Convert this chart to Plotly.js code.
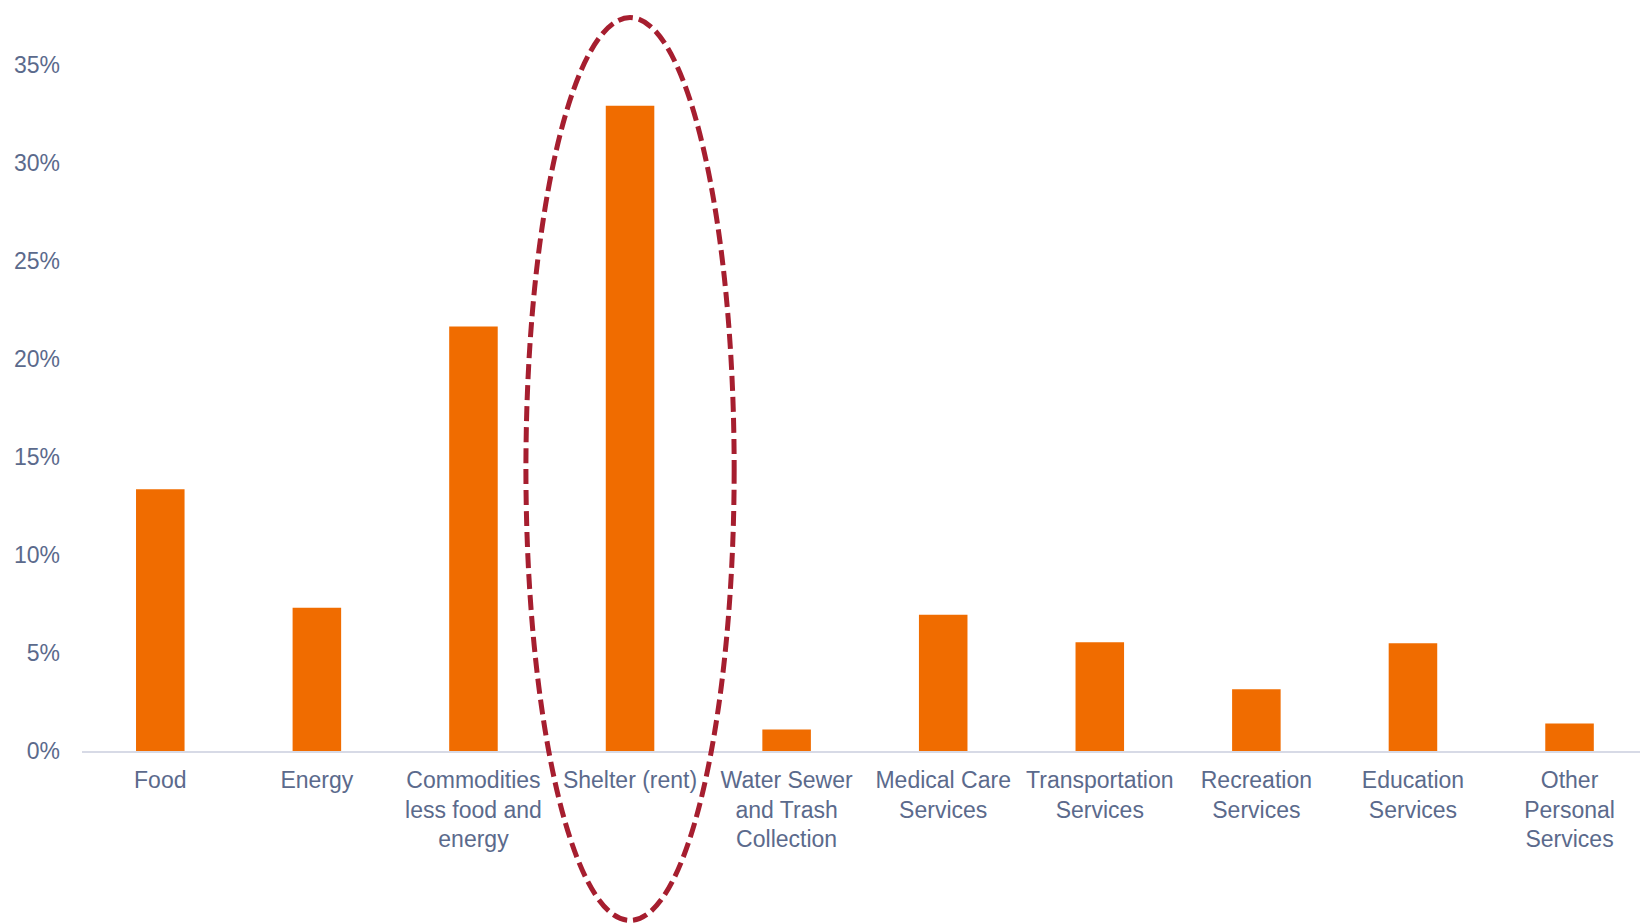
<!DOCTYPE html>
<html>
<head>
<meta charset="utf-8">
<script src="https://cdn.plot.ly/plotly-3.0.1.min.js"></script>
<style>html,body{margin:0;padding:0;background:#fff;}#chart{width:1640px;height:923px;}</style>
</head>
<body>
<div id="chart"></div>
<script>
var categories = [
  "Food", "Energy", "Commodities<br>less food and<br>energy", "Shelter (rent)",
  "Water Sewer<br>and Trash<br>Collection", "Medical Care<br>Services",
  "Transportation<br>Services", "Recreation<br>Services", "Education<br>Services",
  "Other<br>Personal<br>Services"
];
var values = [13.35, 7.3, 21.65, 32.9, 1.1, 6.95, 5.55, 3.15, 5.5, 1.4];
var yTickVals = [0, 5, 10, 15, 20, 25, 30, 35];
var highlightIndex = 3;

var W = 1640, H = 923;
var margin = {l: 82, r: 0, t: 45.4, b: 172};
var xRange = [-0.5, 9.45];
var yRange = [0, 36];

// ellipse around highlighted category, expressed in axis units then converted to paper
var halfWidthCat = 0.665;
var ellTopVal = 37.4, ellBotVal = -8.64;
function xPaper(v){ return (v - xRange[0]) / (xRange[1] - xRange[0]); }
function yPaper(v){ return (v - yRange[0]) / (yRange[1] - yRange[0]); }

var fontColor = "#5b6a8c";
var trace = {
  type: "bar",
  x: categories.map(function(c, i){ return i; }),
  y: values,
  marker: {color: "#F06C00"},
  width: 0.31,
  hoverinfo: "skip"
};

var layout = {
  width: W, height: H,
  margin: margin,
  paper_bgcolor: "#ffffff",
  plot_bgcolor: "#ffffff",
  showlegend: false,
  font: {family: "Liberation Sans, Arial, sans-serif", size: 23, color: fontColor},
  xaxis: {
    range: xRange,
    tickmode: "array",
    tickvals: categories.map(function(c, i){ return i; }),
    ticktext: categories,
    showgrid: false,
    zeroline: false,
    showline: true,
    linecolor: "#d7dae6",
    linewidth: 2,
    ticks: "",
    tickangle: 0,
    ticklabelstandoff: 7,
    tickfont: {size: 23, color: fontColor}
  },
  yaxis: {
    range: yRange,
    tickmode: "array",
    tickvals: yTickVals,
    ticktext: yTickVals.map(function(v){ return v + "%"; }),
    showgrid: false,
    zeroline: false,
    showline: false,
    ticks: "",
    ticklabelstandoff: 21,
    tickfont: {size: 23, color: fontColor}
  },
  shapes: [{
    type: "circle",
    xref: "paper", yref: "paper",
    x0: xPaper(highlightIndex - halfWidthCat),
    x1: xPaper(highlightIndex + halfWidthCat),
    y0: yPaper(ellBotVal),
    y1: yPaper(ellTopVal),
    line: {color: "#A61E2F", width: 5, dash: "15px,6px"},
    layer: "above"
  }]
};

Plotly.newPlot("chart", [trace], layout, {displayModeBar: false, staticPlot: true});
</script>
</body>
</html>
